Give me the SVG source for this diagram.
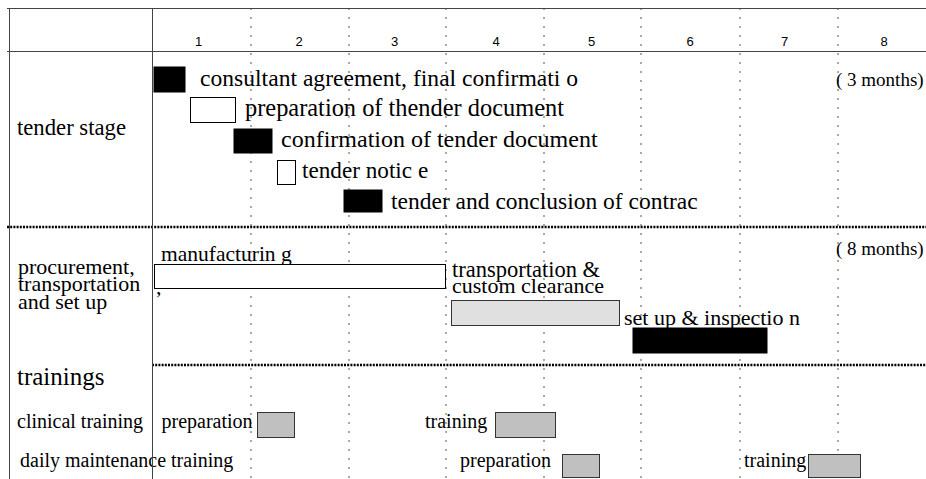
<svg xmlns="http://www.w3.org/2000/svg" width="926" height="479" viewBox="0 0 926 479">
<style>
.t{font-family:"Liberation Serif","Times New Roman",serif;font-size:23.5px;fill:#000}
.p{font-family:"Liberation Serif","Times New Roman",serif;font-size:22px;fill:#000}
.m{font-family:"Liberation Serif","Times New Roman",serif;font-size:19px;fill:#000}
.c{font-family:"Liberation Serif","Times New Roman",serif;font-size:20px;fill:#000}
.n{font-family:"Liberation Sans",Arial,sans-serif;font-size:13px;fill:#000;text-anchor:middle}
.grid{stroke:#444;stroke-width:1;fill:none}
.vd{stroke:#555;stroke-width:1;stroke-dasharray:2,7;fill:none}
.hd{stroke:#000;stroke-width:2.5;stroke-dasharray:2,1.2;fill:none}
.blk{fill:#000;stroke:#000}
.wht{fill:#fff;stroke:#000;stroke-width:1}
.lg{fill:#e0e0e0;stroke:#333;stroke-width:1}
.g{fill:#c0c0c0;stroke:#333;stroke-width:1}
</style>
<rect width="926" height="479" fill="#fff"/>
<g id="grid">
<line class="vd" x1="251" y1="8" x2="251" y2="479"/>
<line class="vd" x1="349" y1="8" x2="349" y2="479"/>
<line class="vd" x1="446" y1="8" x2="446" y2="479"/>
<line class="vd" x1="544" y1="8" x2="544" y2="479"/>
<line class="vd" x1="641" y1="8" x2="641" y2="479"/>
<line class="vd" x1="740" y1="8" x2="740" y2="479"/>
<line class="vd" x1="838" y1="8" x2="838" y2="479"/>
<line class="grid" x1="7" y1="8.5" x2="926" y2="8.5"/>
<line class="grid" x1="7" y1="51.5" x2="926" y2="51.5"/>
<line class="grid" x1="9.5" y1="8" x2="9.5" y2="479"/>
<line class="hd" x1="7" y1="227" x2="926" y2="227"/>
<line class="hd" x1="152" y1="365" x2="926" y2="365"/>
</g>
<g id="header">
<text class="n" x="198.5" y="46">1</text>
<text class="n" x="299" y="46">2</text>
<text class="n" x="394.5" y="46">3</text>
<text class="n" x="496" y="46">4</text>
<text class="n" x="591.5" y="46">5</text>
<text class="n" x="690" y="46">6</text>
<text class="n" x="784.5" y="46">7</text>
<text class="n" x="884" y="46">8</text>
</g>
<g id="tender-stage">
<text class="p" x="17" y="135" style="font-size:22.7px">tender stage</text>
<text class="m" x="836" y="86">( 3 months)</text>
</g>
<g id="task-consultant">
<rect class="blk" x="154" y="67" width="31" height="25"/>
<text class="t" x="200" y="86" style="font-size:23.6px">consultant agreement, final confirmati o</text>
</g>
<g id="task-preparation">
<rect class="wht" x="190.5" y="97.5" width="45" height="25"/>
<text class="t" x="245" y="116" style="font-size:24.4px">preparation of thender document</text>
</g>
<g id="task-confirmation">
<rect class="blk" x="234" y="129" width="38" height="24"/>
<text class="t" x="281" y="147" style="font-size:24px">confirmation of tender document</text>
</g>
<g id="task-notice">
<rect class="wht" x="277.5" y="160.5" width="18" height="24"/>
<text class="t" x="302" y="178" style="font-size:23.2px">tender notic e</text>
</g>
<g id="task-contract">
<rect class="blk" x="344" y="190" width="38" height="22"/>
<text class="t" x="391" y="209">tender and conclusion of contrac</text>
</g>
<g id="procurement">
<text class="p" x="18" y="273.5">procurement,</text>
<text class="p" x="18" y="291">transportation</text>
<text class="p" x="18" y="308.5">and set up</text>
<text class="m" x="836" y="255">( 8 months)</text>
</g>
<g id="task-manufacturing">
<text class="p" x="161" y="261" style="font-size:21.5px">manufacturin g</text>
<rect class="wht" x="154.5" y="264.5" width="291" height="24"/>
<text class="p" x="156" y="294">,</text>
</g>
<g id="task-transport">
<text class="p" x="452" y="276.5" style="font-size:22.5px">transportation &amp;</text>
<text class="p" x="452" y="293">custom clearance</text>
<rect class="lg" x="451.5" y="300.5" width="168" height="25"/>
</g>
<g id="task-setup">
<rect class="blk" x="633" y="328" width="134" height="25"/>
<text class="p" x="624" y="325">set up &amp; inspectio n</text>
</g>
<g id="trainings">
<text class="t" x="17" y="385" style="font-size:25px">trainings</text>
</g>
<g id="clinical-training">
<text class="c" x="17" y="428">clinical training</text>
<text class="c" x="161.5" y="428">preparation</text>
<rect class="g" x="257.5" y="412.5" width="37" height="25"/>
<text class="c" x="425" y="428">training</text>
<rect class="g" x="495.5" y="412.5" width="60" height="25"/>
</g>
<g id="maintenance-training">
<text class="c" x="20" y="467">daily maintenance training</text>
<text class="c" x="460" y="467">preparation</text>
<rect class="g" x="562.5" y="454.5" width="37" height="23"/>
<text class="c" x="744" y="467">training</text>
<rect class="g" x="808.5" y="454.5" width="52" height="23"/>
</g>
<line class="grid" x1="152.5" y1="8" x2="152.5" y2="479"/>
</svg>
